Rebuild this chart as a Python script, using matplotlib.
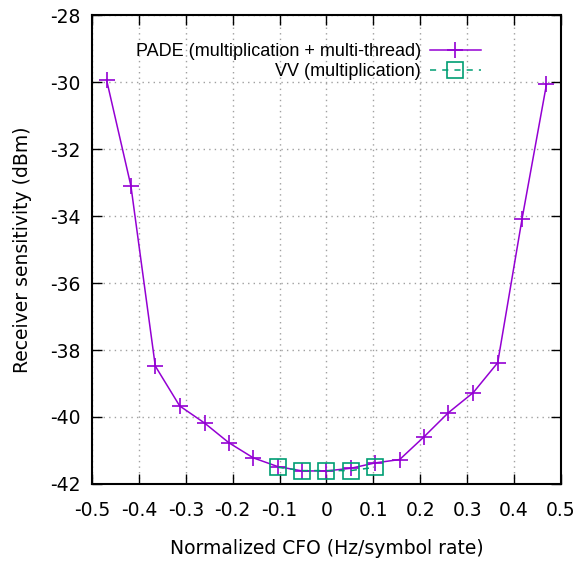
import matplotlib
matplotlib.use("Agg")
import matplotlib.pyplot as plt

# normalized CFO values (Hz / symbol rate)
pade_cfo = [-0.469, -0.417, -0.365, -0.313, -0.260, -0.208, -0.156, -0.104, -0.052, 0.0,
            0.052, 0.104, 0.156, 0.208, 0.260, 0.313, 0.365, 0.417, 0.469]
pade_sens = [-29.93, -33.10, -38.48, -39.67, -40.18, -40.77, -41.22, -41.48, -41.61, -41.61,
             -41.53, -41.37, -41.27, -40.59, -39.87, -39.27, -38.38, -34.08, -30.07]

vv_cfo = [-0.104, -0.052, 0.0, 0.052, 0.104]
vv_sens = [-41.50, -41.60, -41.60, -41.60, -41.50]

x_ticks = [-0.5, -0.4, -0.3, -0.2, -0.1, 0, 0.1, 0.2, 0.3, 0.4, 0.5]
x_ticklabels = ['-0.5', '-0.4', '-0.3', '-0.2', '-0.1', '0', '0.1', '0.2', '0.3', '0.4', '0.5']
y_ticks = [-42, -40, -38, -36, -34, -32, -30, -28]


def main():
    plt.rcParams['font.family'] = ['DejaVu Sans']
    plt.rcParams['font.size'] = 13.5
    plt.rcParams['axes.unicode_minus'] = False

    fig = plt.figure(figsize=(5.81, 5.67), dpi=100)
    ax = fig.add_axes([0.1583, 0.1464, 0.8073, 0.8271])

    ax.plot(pade_cfo, pade_sens, color='#9400d3', lw=1.1, marker='+', ms=12, mew=1.2,
            label='PADE (multiplication + multi-thread)')
    ax.plot(vv_cfo, vv_sens, color='#009e73', lw=1.1, ls=(0, (4, 4)), marker='s', ms=12,
            mew=1.2, mfc='none', label='VV (multiplication)')

    ax.set_xlim(-0.5, 0.5)
    ax.set_ylim(-42, -28)
    ax.set_xticks(x_ticks)
    ax.set_xticklabels(x_ticklabels)
    ax.set_yticks(y_ticks)

    ax.grid(True, color='#a0a0a0', lw=1.0, ls=(0, (1, 3)))
    ax.tick_params(direction='in', length=7, width=1, top=True, right=True)
    ax.tick_params(axis='x', pad=12)
    ax.tick_params(axis='y', pad=8)
    for s in ax.spines.values():
        s.set_linewidth(1.5)

    ax.set_xlabel('Normalized CFO (Hz/symbol rate)', labelpad=14)
    ax.set_ylabel('Receiver sensitivity (dBm)', labelpad=13.5)

    ax.legend(loc='upper right', bbox_to_anchor=(0.844, 0.955), frameon=False,
              markerfirst=False, handlelength=2.8, handletextpad=0.5, labelspacing=0.15,
              borderaxespad=0, prop={'family': 'Liberation Sans', 'size': 13})

    plt.savefig('out.png', dpi=100)
    plt.close()


if __name__ == "__main__":
    main()
